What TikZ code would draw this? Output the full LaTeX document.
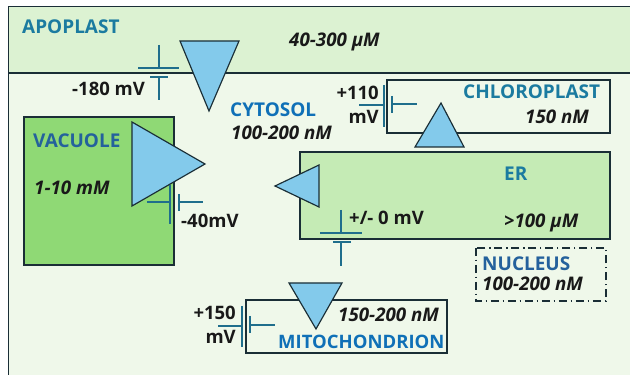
\documentclass[tikz,border=0pt]{standalone}
\usepackage{fontspec}
\setmainfont{Open Sans}
\usepackage{xcolor}
\usetikzlibrary{calc}
\definecolor{apocolor}{HTML}{DCF2D2}
\definecolor{cytocolor}{HTML}{EFF8EA}
\definecolor{vaccolor}{HTML}{8FD975}
\definecolor{ercolor}{HTML}{C5EBB5}
\definecolor{chancolor}{HTML}{83CAEB}
\definecolor{edgecolor}{HTML}{1A2E36}
\definecolor{caplinecolor}{HTML}{1F6E8C}
\definecolor{tealcolor}{HTML}{1B7BA0}
\definecolor{bluecolor}{HTML}{0F70B7}
\definecolor{navycolor}{HTML}{24619C}
\tikzset{
  boxline/.style={draw=edgecolor, line width=1pt},
  channel/.style={draw=edgecolor, line width=1pt, fill=chancolor, line join=miter},
  capline/.style={draw=caplinecolor, line width=0.9pt},
  conc/.style={font=\bfseries\itshape\fontsize{16}{18}\selectfont, text=black!90, inner sep=0pt, anchor=base west},
  volt/.style={font=\bfseries\fontsize{15.8}{18}\selectfont, text=black!90, inner sep=0pt, anchor=base west},
  organ/.style={font=\bfseries\fontsize{16.2}{18}\selectfont, inner sep=0pt, anchor=base west}
}
\begin{document}
\begin{tikzpicture}[x=0.03cm,y=-0.03cm]
   \useasboundingbox (0,0) rectangle (630,375);
   %% compartments
   \fill [cytocolor] (8.5,73) rectangle (630,375);
   \fill [apocolor] (8.5,6.5) rectangle (630,73);
   \draw [boxline] (630,6.5) -- (8.5,6.5) -- (8.5,375);
   \draw [boxline] (8.5,73) -- (630,73);
   \draw [boxline, fill=vaccolor] (24,117) rectangle (174,265);
   \draw [boxline, fill=ercolor] (300,152) rectangle (610,239);
   \draw [boxline] (387,80) rectangle (610,133);
   \draw [boxline] (246,300) rectangle (447,353);
   \draw [boxline, dash pattern=on 7pt off 3pt on 1.5pt off 3pt] (476,248) rectangle (606,301);
   %% channels
   \draw [channel] (180,41) -- (239,41) -- (209,111) -- cycle;
   \draw [channel] (132,122) -- (205,164) -- (132,206) -- cycle;
   \draw [channel] (275,186) -- (319,165) -- (319,207) -- cycle;
   \draw [channel] (415,147) -- (464,147) -- (441,103) -- cycle;
   \draw [channel] (289,283) -- (342,283) -- (316,329) -- cycle;
   %% capacitors
   \draw [capline] (159,45) -- (159,68) (138,68) -- (179,68) (150,77) -- (168,77) (159,77) -- (159,100);
   \draw [capline] (359,105) -- (384,105) (384,85) -- (384,127) (392,96) -- (392,113) (392,104) -- (417,104);
   \draw [capline] (147,202) -- (170,202) (170,185) -- (170,224) (179,194) -- (179,211) (179,202) -- (203,202);
   \draw [capline] (218,326) -- (242,326) (242,306) -- (242,347) (250,316) -- (250,333) (250,325) -- (275,325);
   \draw [capline] (341,210) -- (341,233) (320,233) -- (362,233) (333,242) -- (351,242) (341,242) -- (341,266);
   %% labels
   \node [organ, text=tealcolor] (apoplast) at (22,34) {APOPLAST};
   \node [conc] (apoconc) at (289,47) {40-300 μM};
   \node [volt] (apovolt) at (72,96) {-180 mV};
   \node [organ, text=bluecolor] (cytosol) at (230,117) {CYTOSOL};
   \node [conc] (cytoconc) at (231,140) {100-200 nM};
   \node [organ, text=navycolor] (vacuole) at (33,148) {VACUOLE};
   \node [conc] (vacconc) at (34,195) {1-10 mM};
   \node [volt] (vacvolt) at (181,228) {-40mV};
   \node [volt, anchor=base east] (chlvolta) at (379,100) {+110};
   \node [volt, anchor=base east] (chlvoltb) at (379,124) {mV};
   \node [organ, text=tealcolor] (chloroplast) at (463,99) {CHLOROPLAST};
   \node [conc] (chlconc) at (525,124) {150 nM};
   \node [organ, text=tealcolor] (er) at (504,181) {ER};
   \node [volt] (ervolt) at (349,225) {+/- 0 mV};
   \node [conc] (erconc) at (504,228) {>100 μM};
   \node [organ, text=navycolor] (nucleus) at (482,271) {NUCLEUS};
   \node [conc] (nucconc) at (482,291) {100-200 nM};
   \node [volt, anchor=base east] (mitvolta) at (236,320) {+150};
   \node [volt, anchor=base east] (mitvoltb) at (236,344) {mV};
   \node [conc] (mitconc) at (338,322) {150-200 nM};
   \node [organ, text=bluecolor, font=\bfseries\fontsize{15.8}{18}\selectfont] (mitochondrion) at (278,349) {MITOCHONDRION};
\end{tikzpicture}
\end{document}
